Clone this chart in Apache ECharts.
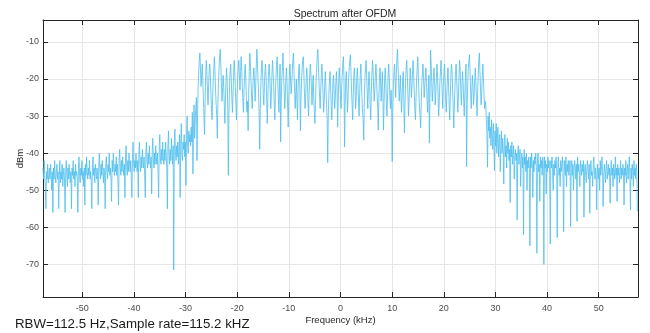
<!DOCTYPE html>
<html>
<head>
<meta charset="utf-8">
<script src="https://cdn.jsdelivr.net/npm/echarts@6/dist/echarts.min.js"></script>
<style>
html,body{margin:0;padding:0;background:#fff;}
#c{width:650px;height:333px;}
</style>
</head>
<body>
<div id="c"></div>
<script>
// Spectrum span (kHz) and tick labels
const fStart = -57.6;
const span = 115.2;
const xTicks = [-50, -40, -30, -20, -10, 0, 10, 20, 30, 40, 50];
const yTicks = [-70, -60, -50, -40, -30, -20, -10];

// dBm values, left skirt (-57.6 .. -28 kHz)
const leftSkirt = [
-44,-47,-42,-46,-49,-55,-45,-47,-43,-48,-46,-44,
-47,-43,-46,-50,-45,-56,-44,-47,-42,-46,-48,-45,
-43,-47,-45,-55,-46,-42,-48,-45,-47,-43,-49,
-46,-44,-47,-56,-45,-42,-46,-49,-44,-47,-43,-46,
-48,-45,-55,-44,-46,-42,-47,-45,-49,-43,-46,
-45,-47,-56,-44,-41,-46,-48,-44,-46,-42,-47,-45,
-49,-44,-54,-43,-46,-41,-45,-47,-44,-46,-42,
-47,-45,-48,-55,-44,-41,-46,-44,-48,-43,-45,-47,
-44,-46,-54,-43,-40,-45,-47,-43,-46,-42,-45,
-48,-44,-46,-55,-43,-41,-45,-47,-43,-45,-40,-46,
-44,-47,-53,-42,-45,-40,-44,-46,-43,-45,-41,
-46,-43,-48,-54,-42,-39,-44,-46,-42,-45,-41,-44,
-46,-43,-52,-41,-38,-44,-46,-42,-45,-40,-43,
-45,-42,-47,-52,-41,-37,-43,-45,-42,-44,-40,-43,
-45,-42,-52,-40,-37,-43,-45,-41,-44,-39,-42,
-44,-41,-46,-52,-40,-37,-42,-44,-40,-43,-38,-42,
-44,-41,-51,-39,-36,-42,-44,-40,-43,-38,-41,
-43,-40,-45,-52,-39,-35,-41,-43,-39,-42,-37,-41,
-43,-39,-42,-37,-40,-44,-55,-38,-34,-41,-43,
-39,-42,-36,-40,-43,-38,-71.5,-37,-33.5,-40,-42,-38,
-41,-37,-43,-39,-35,-52,-38,-32,-40,-42,-37,
-39,-35,-41,-37,-48.7,-36,-30,-38,-40,-34,-37,
-35,-38,-33,-37,-29,-45.6,-34,-27,-36,-31
];

// dBm values, occupied band (-28 .. +28 kHz)
const passband = [
-31,-25,-42,-30,-22,-18,-15,-13,-17,-22,-19,-16,
-20,-25,-30,-35,-26,-19,-15,-18,-23,-27,-22,-18,
-16,-19,-24,-28,-31,-25,-20,-17,-14,-18,-23,-27,
-30,-36,-27,-21,-17,-14,-12,-16,-21,-26,-23,-19,
-22,-27,-32,-26,-20,-17,-21,-28,-46,-30,-22,-18,
-16,-20,-25,-29,-24,-19,-15,-18,-22,-27,-31,-24,
-20,-17,-15,-19,-23,-18,-14,-17,-22,-26,-29,-23,
-19,-16,-20,-25,-29,-26,-34,-24,-18,-13,-16,-21,
-25,-28,-23,-19,-17,-21,-26,-22,-17,-12,-15,-20,
-24,-30,-39,-28,-21,-17,-15,-19,-24,-27,-22,-18,
-16,-20,-26,-32,-25,-19,-16,-18,-23,-28,-24,-19,
-15,-18,-22,-27,-31,-24,-19,-16,-14,-20,-25,-29,
-22,-16,-37,-26,-20,-17,-13,-18,-23,-28,-25,-20,
-17,-21,-27,-33,-25,-19,-16,-20,-24,-22,-18,-15,
-13,-18,-23,-28,-24,-20,-26,-31,-23,-18,-16,-21,
-34,-26,-20,-17,-15,-14,-19,-24,-28,-25,-20,-17,
-21,-26,-30,-24,-19,-16,-18,-23,-27,-22,-19,-25,
-29,-32,-26,-20,-17,-14,-12,-16,-21,-25,-28,-23,
-19,-16,-20,-24,-29,-26,-21,-18,-23,-27,-31,-42.6,
-30,-24,-20,-18,-22,-27,-31,-26,-21,-19,-23,-28,
-25,-21,-18,-22,-33,-26,-20,-17,-21,-25,-28,-22,
-19,-16,-14,-20,-38.3,-27,-21,-18,-23,-29,-25,-20,
-17,-15,-13.5,-18,-23,-27,-31,-24,-19,-17,-22,-28,
-25,-20,-17,-21,-26,-30,-24,-19,-16,-20,-25,-29,
-31,-36.5,-26,-20,-17,-15,-19,-24,-28,-22,-18,-21,
-27,-31,-24,-19,-15,-17,-22,-26,-23,-19,-16,-20,
-24,-28,-33.8,-25,-20,-17,-21,-26,-22,-18,-24,-33.8,
-26,-20,-17,-21,-27,-30,-24,-19,-16,-20,-25,-28,
-23,-27,-42.3,-29,-22,-18,-16,-20,-25,-19,-15,-12,
-16,-21,-26,-23,-19,-24,-29,-25,-20,-18,-26,-34.6,
-27,-21,-17,-15,-19,-24,-30,-26,-21,-17,-20,-25,
-22,-18,-15,-19,-24,-28,-31,-25,-20,-17,-14,-19,
-24,-28,-30,-33.2,-26,-21,-18,-16,-20,-25,-22,-19,
-17,-21,-26,-29,-23,-19,-37.3,-25,-12.2,-16,-21,-26,
-23,-19,-17,-21,-27,-24,-20,-16,-19,-25,-30,-26,
-21,-18,-15,-19,-24,-28,-22,-18,-16,-20,-26,-29,
-24,-20,-17,-22,-27,-31,-25,-19,-16,-18,-23,-28,
-33.2,-27,-22,-18,-16,-20,-25,-29,-24,-19,-15,-18,
-23,-27,-22,-18,-21,-26,-30,-24,-19,-16,-43.7,-27,
-21,-17,-15,-13.5,-18,-24,-28,-23,-19,-22,-27,-24,
-20,-17,-21,-26,-30,-24,-19,-15,-13,-18,-23,-27,
-24,-19,-16,-20,-24,-28,-26
];

// dBm values, right skirt (+28 .. +57.6 kHz)
const rightSkirt = [
-27,-31,-35,-43.8,
-30,-34,-29,-36,-33,-38,-31,-35,-39,-32,-37,-44.7,
-34,-38,-32,-40,-36,-33,-41,-37,-35,-45,-38,-34,-40,-36,-39,-48.3,
-37,-35,-41,-38,-44,-36,-40,-37,-42,-39,-53.3,
-38,-41,-37,-43,-40,-38,-47,-41,-39,-42,-40,-58,
-40,-38,-43,-41,-39,-49,-42,-40,-44,-41,-62,
-39,-43,-41,-45,-40,-50,-42,-44,-41,-43,-65,
-41,-44,-40,-43,-52,-42,-45,-41,-43,-40,-44,-67,
-42,-40,-45,-43,-53,-41,-44,-42,-46,-41,-43,-70,
-41,-44,-42,-51,-43,-45,-41,-44,-42,-46,-64.5,
-42,-44,-41,-45,-50,-43,-46,-42,-44,-41,-45,-62.8,
-43,-41,-46,-44,-49,-42,-45,-43,-41,-46,-61.2,
-42,-44,-46,-41,-49,-43,-45,-42,-46,-44,-42,-59.8,
-44,-42,-46,-43,-50,-45,-42,-44,-47,-43,-58.4,
-41,-45,-43,-46,-49,-42,-44,-46,-43,-45,-42,-57.3,
-45,-43,-46,-48,-44,-42,-45,-47,-43,-56.2,
-44,-42,-46,-45,-49,-43,-41,-45,-47,-44,-46,-55.3,
-43,-45,-47,-44,-50,-42,-46,-44,-41,-45,-54.4,
-46,-43,-45,-48,-44,-42,-47,-45,-43,-46,-44,-53.5,
-45,-42,-46,-44,-49,-43,-45,-47,-41,-46,-44,-53,
-43,-46,-44,-48,-45,-42,-47,-44,-46,-43,-45,-54,
-44,-46,-42,-48,-45,-43,-47,-44,-41,-46,-55.3,
-44,-47,-43,-45,-49,-42,-46,-44,-47,-43,-45,-55.7
];

const values = leftSkirt.concat(passband, rightSkirt);
const step = span / values.length;
const seriesData = values.map((v, i) => [fStart + i * step, v]);

const axisColor = '#262626';
const labelColor = '#4d4d4d';
const gridColor = '#e6e6e6';
const font = 'Liberation Sans, Arial, sans-serif';

const chart = echarts.init(document.getElementById('c'), null, {renderer: 'canvas'});
chart.setOption({
  animation: false,
  backgroundColor: '#fff',
  title: {
    text: 'Spectrum after OFDM',
    left: 340, top: 4, textAlign: 'center',
    textStyle: {fontSize: 10.5, fontWeight: 'normal', color: axisColor, fontFamily: font}
  },
  grid: {left: 43, right: 12, top: 20, bottom: 36, containLabel: false, outerBoundsMode: 'none'},
  xAxis: [{
    type: 'value', position: 'bottom', min: fStart, max: fStart + span,
    name: 'Frequency (kHz)', nameLocation: 'middle', nameGap: 18, nameMoveOverlap: false,
    nameTextStyle: {fontSize: 9.5, color: axisColor, fontFamily: font},
    axisLine: {show: true, onZero: false, lineStyle: {color: axisColor, width: 1}},
    axisTick: {show: true, inside: true, length: 5, customValues: xTicks, lineStyle: {color: axisColor}},
    axisLabel: {customValues: xTicks, fontSize: 9, color: labelColor, margin: 7, fontFamily: font},
    splitLine: {show: true, lineStyle: {color: gridColor, width: 1}}
  }, {
    type: 'value', position: 'top', min: fStart, max: fStart + span,
    axisLine: {show: true, onZero: false, lineStyle: {color: axisColor, width: 1}},
    axisTick: {show: true, inside: true, length: 5, customValues: xTicks, lineStyle: {color: axisColor}},
    axisLabel: {show: false},
    splitLine: {show: false}
  }],
  yAxis: [{
    type: 'value', position: 'left', min: -78.8, max: -4.1,
    name: 'dBm', nameLocation: 'middle', nameGap: 18, nameRotate: 90, nameMoveOverlap: false,
    nameTextStyle: {fontSize: 9.5, color: axisColor, fontFamily: font},
    axisLine: {show: true, onZero: false, lineStyle: {color: axisColor, width: 1}},
    axisTick: {show: true, inside: true, length: 5, customValues: yTicks, lineStyle: {color: axisColor}},
    axisLabel: {customValues: yTicks, fontSize: 9, color: labelColor, margin: 4, fontFamily: font},
    splitLine: {show: true, lineStyle: {color: gridColor, width: 1}}
  }, {
    type: 'value', position: 'right', min: -78.8, max: -4.1,
    axisLine: {show: true, onZero: false, lineStyle: {color: axisColor, width: 1}},
    axisTick: {show: true, inside: true, length: 5, customValues: yTicks, lineStyle: {color: axisColor}},
    axisLabel: {show: false},
    splitLine: {show: false}
  }],
  graphic: [{
    type: 'text', left: 15, top: 318,
    style: {text: 'RBW=112.5 Hz,Sample rate=115.2 kHZ', fontSize: 13.3, fill: '#1a1a1a', fontFamily: font}
  }],
  series: [{
    type: 'line', xAxisIndex: 0, yAxisIndex: 0,
    data: seriesData, showSymbol: false, sampling: null,
    lineStyle: {color: '#4DBEEE', width: 0.8},
    emphasis: {disabled: true}
  }]
});
</script>
</body>
</html>
